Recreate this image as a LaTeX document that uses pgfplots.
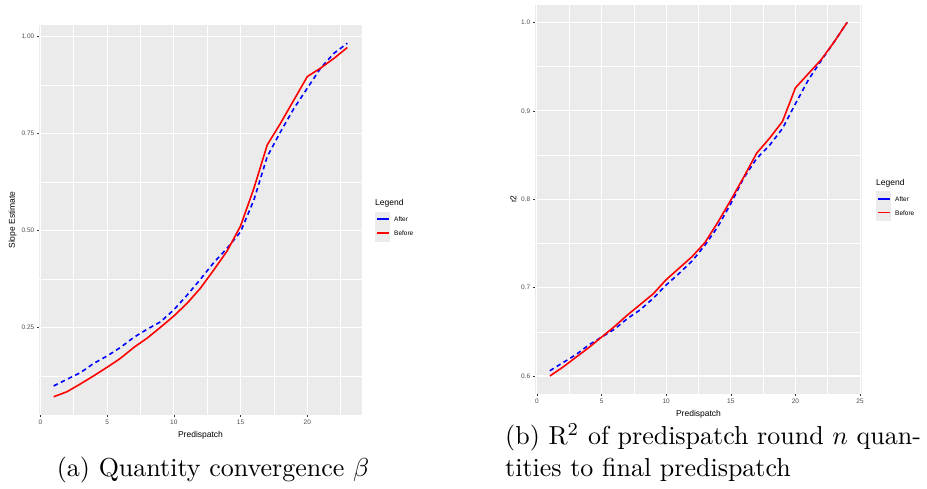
\documentclass[border=0pt]{standalone}
\usepackage{fontspec}
\usepackage{graphicx}
\usepackage{pgfplots}
\pgfplotsset{compat=1.18}
\newfontfamily\ggf{Liberation Sans}
\definecolor{ggbg}{HTML}{EBEBEB}
\definecolor{ggtext}{HTML}{4D4D4D}
\definecolor{ggtick}{HTML}{333333}
\definecolor{ggblue}{HTML}{0000FF}
\definecolor{ggred}{HTML}{FF0000}
\pgfplotsset{ggstyle/.style={
  scale only axis,
  axis background/.style={fill=ggbg},
  axis line style={draw=none},
  grid=both,
  major grid style={white, line width=1.1pt},
  minor grid style={white, line width=0.55pt},
  tick align=outside,
  xtick pos=bottom, ytick pos=left,
  tick style={ggtick, line width=0.5pt},
  major tick length=2.2pt,
  minor tick length=0pt,
  tick label style={font=\ggf\fontsize{6.5}{7}\selectfont, text=ggtext},
  xticklabel style={yshift=0.5pt},
  yticklabel style={xshift=1pt},
  /pgf/number format/assume math mode=true,
  label style={font=\ggf\fontsize{8.5}{9}\selectfont},
  ylabel style={yshift=-2pt},
  xlabel={Predispatch},
}}
\begin{document}
\begin{tikzpicture}[x=1pt,y=1pt]
\path (0,0) rectangle (927,488);
% ---------- left panel ----------
\begin{axis}[ggstyle,
  at={(39pt,73pt)}, anchor=south west,
  width=323pt, height=390pt,
  xmin=-0.1, xmax=24.1, ymin=0.025, ymax=1.03,
  xtick={0,5,10,15,20}, minor xtick={2.5,7.5,12.5,17.5,22.5},
  ytick={0.25,0.5,0.75,1}, minor ytick={0.125,0.375,0.625,0.875},
  yticklabel style={/pgf/number format/.cd, fixed, fixed zerofill, precision=2},
  ylabel={Slope Estimate},
]
\addplot[ggblue, line width=1.6pt, dash pattern=on 4.5pt off 3.5pt] coordinates {
(1,0.100) (2,0.117) (3,0.134) (4,0.158) (5,0.177) (6,0.199) (7,0.225) (8,0.246)
(9,0.265) (10,0.296) (11,0.334) (12,0.375) (13,0.418) (14,0.455) (15,0.497)
(16,0.579) (17,0.691) (18,0.755) (19,0.815) (20,0.867) (21,0.919) (22,0.957) (23,0.983)};
\addplot[ggred, line width=1.6pt] coordinates {
(1,0.072) (2,0.085) (3,0.105) (4,0.126) (5,0.148) (6,0.171) (7,0.199) (8,0.223)
(9,0.251) (10,0.280) (11,0.313) (12,0.352) (13,0.399) (14,0.448) (15,0.512)
(16,0.609) (17,0.721) (18,0.777) (19,0.837) (20,0.897) (21,0.919) (22,0.944) (23,0.972)};
\end{axis}
% legend (left)
\node[anchor=base west, font=\ggf\fontsize{8.5}{9}\selectfont, inner sep=0pt] at (375,282) {Legend};
\fill[ggbg] (375,245.7) rectangle (390,276.3);
\fill[ggblue] (376.5,267.9) rectangle (388.5,269.5);
\fill[ggred] (376.5,253.9) rectangle (388.5,255.5);
\node[anchor=west, font=\ggf\fontsize{6.5}{7}\selectfont, inner sep=0pt] at (394,268.7) {After};
\node[anchor=west, font=\ggf\fontsize{6.5}{7}\selectfont, inner sep=0pt] at (394,254.7) {Before};
% ---------- right panel ----------
\begin{axis}[ggstyle,
  at={(535pt,94.3pt)}, anchor=south west,
  width=327pt, height=389pt,
  xmin=-0.15, xmax=25.15, ymin=0.58, ymax=1.02,
  xtick={0,5,10,15,20,25}, minor xtick={2.5,7.5,12.5,17.5,22.5},
  ytick={0.6,0.7,0.8,0.9,1}, minor ytick={0.65,0.75,0.85,0.95},
  yticklabel style={/pgf/number format/.cd, fixed, fixed zerofill, precision=1},
  ylabel={r2},
]
\addplot[ggblue, line width=1.6pt, dash pattern=on 4.5pt off 3.5pt] coordinates {
(1,0.606) (2,0.615) (3,0.624) (4,0.635) (5,0.644) (6,0.653) (7,0.665) (8,0.675)
(9,0.688) (10,0.703) (11,0.716) (12,0.730) (13,0.748) (14,0.769) (15,0.795)
(16,0.824) (17,0.846) (18,0.861) (19,0.880) (20,0.908) (21,0.935) (22,0.957)
(23,0.978) (24,1.000)};
\addplot[ggred, line width=1.6pt] coordinates {
(1,0.600) (2,0.610) (3,0.621) (4,0.632) (5,0.644) (6,0.656) (7,0.669) (8,0.681)
(9,0.693) (10,0.709) (11,0.722) (12,0.735) (13,0.751) (14,0.774) (15,0.799)
(16,0.825) (17,0.852) (18,0.869) (19,0.888) (20,0.926) (21,0.942) (22,0.958)
(23,0.978) (24,1.000)};
\end{axis}
% legend (right)
\node[anchor=base west, font=\ggf\fontsize{8.5}{9}\selectfont, inner sep=0pt] at (876,302) {Legend};
\fill[ggbg] (876,267) rectangle (891,297);
\fill[ggblue] (877.5,288.2) rectangle (889.5,289.8);
\fill[ggred] (877.5,274.5) rectangle (889.5,276.1);
\node[anchor=west, font=\ggf\fontsize{6.5}{7}\selectfont, inner sep=0pt] at (895,289) {After};
\node[anchor=west, font=\ggf\fontsize{6.5}{7}\selectfont, inner sep=0pt] at (895,275.3) {Before};
% ---------- captions ----------
\node[anchor=base, inner sep=0pt] at (213,11.3)
  {\scalebox{2.6}{\fontsize{10}{12}\selectfont (a) Quantity convergence $\beta$}};
\node[anchor=base west, inner sep=0pt] at (505,11.3)
  {\scalebox{2.6}{\fontsize{10}{12.3}\selectfont\begin{tabular}[b]{@{}l@{}}(b) R$^2$ of predispatch round $n$ quan-\\tities to final predispatch\end{tabular}}};
\end{tikzpicture}
\end{document}
